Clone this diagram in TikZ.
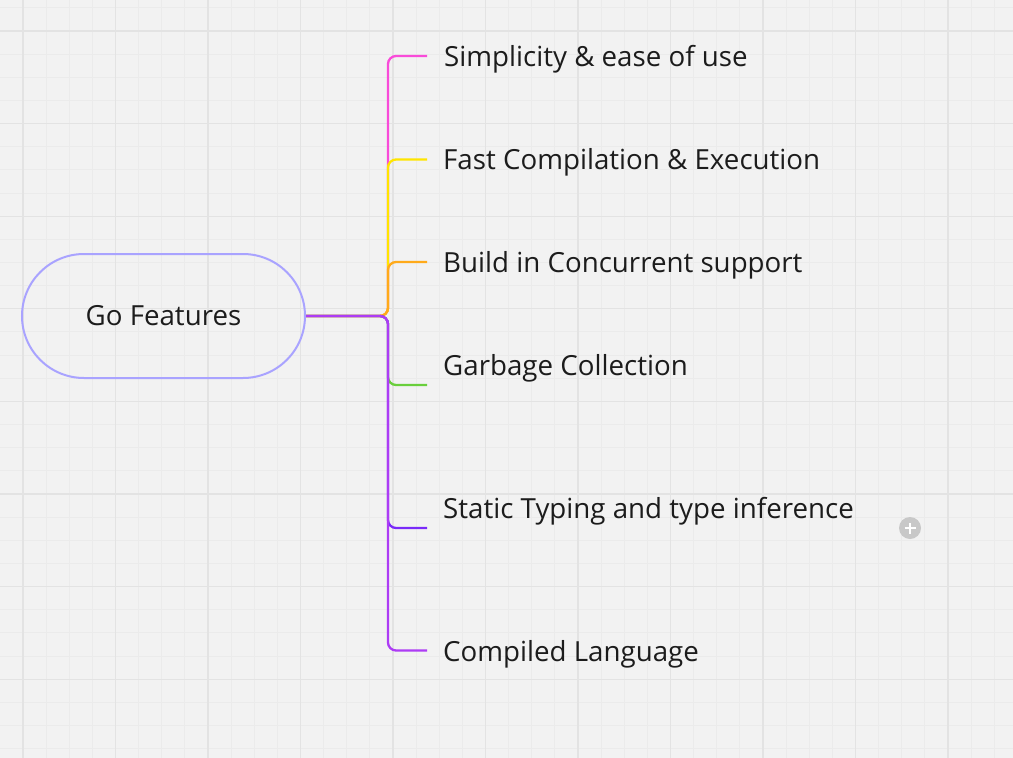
\documentclass[tikz,border=0pt]{standalone}
\usepackage{fontspec}
\setmainfont{Open Sans}
\definecolor{bg}{HTML}{F2F2F2}
\definecolor{gridminor}{HTML}{EBEBEB}
\definecolor{gridmajor}{HTML}{E3E3E3}
\definecolor{rootborder}{HTML}{A9A3FF}
\definecolor{cmag}{HTML}{F94BD9}
\definecolor{cyel}{HTML}{FFE500}
\definecolor{cora}{HTML}{FFAA1A}
\definecolor{cgrn}{HTML}{69CF3C}
\definecolor{cvio}{HTML}{7A2BF9}
\definecolor{cpur}{HTML}{AD3CF5}
\definecolor{txt}{HTML}{1C1C1C}
\definecolor{plusgrey}{HTML}{C8C8C8}
\tikzset{
  rootnode/.style={draw=rootborder, line width=2pt, rounded rectangle, minimum width=283pt, minimum height=124pt, inner sep=0pt, text=txt, font=\fontsize{27.7}{33}\selectfont},
  leaf/.style={anchor=base west, inner sep=0pt, text=txt, font=\fontsize{27.7}{33}\selectfont},
  conn/.style={line width=2.3pt, rounded corners=8pt},
}
\usetikzlibrary{shapes.misc}
\begin{document}
\begin{tikzpicture}[x=1pt,y=-1pt]
\fill[bg] (0,0) rectangle (1013,758);
\useasboundingbox (0,0) rectangle (1013,758);
% grid
\foreach \i in {0,...,44} {
  \draw[gridminor, line width=0.9pt] ({-0.1+23.125*\i},0) -- ({-0.1+23.125*\i},758);
}
\foreach \i in {0,...,33} {
  \draw[gridminor, line width=0.9pt] (0,{7.8+23.15*\i}) -- (1013,{7.8+23.15*\i});
}
\foreach \i in {0,...,10} {
  \draw[gridmajor, line width=1.1pt] ({23+92.5*\i},0) -- ({23+92.5*\i},758);
}
\foreach \i in {0,...,7} {
  \draw[gridmajor, line width=1.1pt] (0,{31+92.6*\i}) -- (1013,{31+92.6*\i});
}
% root
\node[rootnode] (root) at (163.5,316) {Go Features};
% leaves
\node[leaf] (l1) at (444,66) {Simplicity \& ease of use};
\node[leaf] (l2) at (443,169) {Fast Compilation \& Execution};
\node[leaf] (l3) at (443,272) {Build in Concurrent support};
\node[leaf] (l4) at (443,375) {Garbage Collection};
\node[leaf] (l5) at (443,518) {Static Typing and type inference};
\node[leaf] (l6) at (443,661) {Compiled Language};
% connector end points
\coordinate (e1) at (427,56);
\coordinate (e2) at (427,159.5);
\coordinate (e3) at (427,262);
\coordinate (e4) at (427,385);
\coordinate (e5) at (427,528);
\coordinate (e6) at (427,650.5);
\coordinate (j) at (388,316);
\draw[conn, cmag] (root.east) -- (j) |- (e1);
\draw[conn, cyel] (root.east) -- (j) |- (e2);
\draw[conn, cora] (root.east) -- (j) |- (e3);
\draw[conn, cgrn] (root.east) -- (j) |- (e4);
\draw[conn, cvio] (root.east) -- (j) |- (e5);
\draw[conn, cpur] (root.east) -- (j) |- (e6);
% plus icon
\node[circle, fill=plusgrey, minimum size=22pt, inner sep=0pt] (plus) at (910,528) {};
\draw[white, line width=2pt] ([xshift=-5.5pt]plus.center) -- ([xshift=5.5pt]plus.center);
\draw[white, line width=2pt] ([yshift=-5.5pt]plus.center) -- ([yshift=5.5pt]plus.center);
\end{tikzpicture}
\end{document}
